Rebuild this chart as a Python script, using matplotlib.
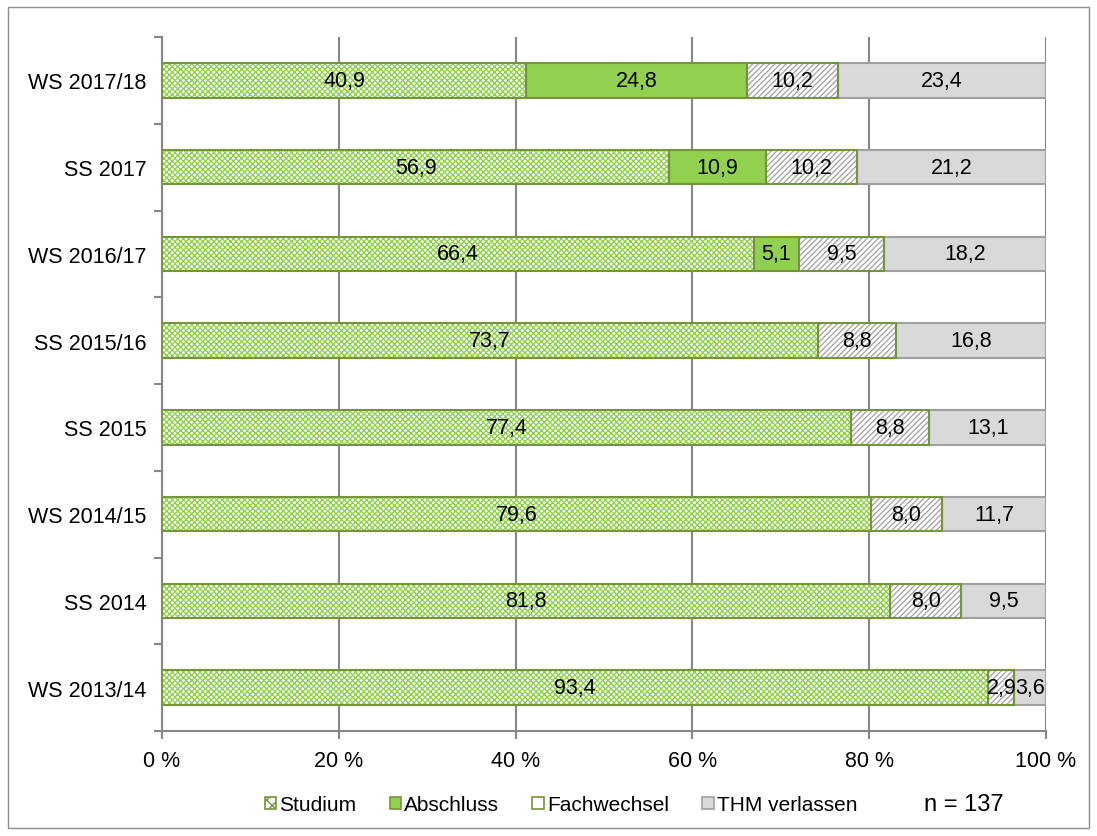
import matplotlib
matplotlib.use("Agg")
import matplotlib.pyplot as plt
from matplotlib.patches import Patch, Rectangle
import numpy as np

plt.rcParams['font.family'] = ['Liberation Sans', 'DejaVu Sans']

categories = ["WS 2017/18", "SS 2017", "WS 2016/17", "SS 2015/16",
              "SS 2015", "WS 2014/15", "SS 2014", "WS 2013/14"]
studium = [40.9, 56.9, 66.4, 73.7, 77.4, 79.6, 81.8, 93.4]
abschluss = [24.8, 10.9, 5.1, 0.0, 0.0, 0.0, 0.0, 0.0]
fachwechsel = [10.2, 10.2, 9.5, 8.8, 8.8, 8.0, 8.0, 2.9]
verlassen = [23.4, 21.2, 18.2, 16.8, 13.1, 11.7, 9.5, 3.6]
series_names = ["Studium", "Abschluss", "Fachwechsel", "THM verlassen"]
xticks = [0, 20, 40, 60, 80, 100]
n_text = "n = 137"

FS = 15.5

W, H = 1097, 837
fig = plt.figure(figsize=(W / 100, H / 100), dpi=100)
fig.patches.append(Rectangle((8 / W, 8 / H), (1089 - 8) / W, (829 - 8) / H,
                             transform=fig.transFigure, fill=False,
                             edgecolor='#8c8c8c', linewidth=1.0))
ax = fig.add_axes([162 / W, 105 / H, (1046 - 162) / W, (732 - 38) / H])

plt.rcParams['hatch.linewidth'] = 1.0

data = np.array([studium, abschluss, fachwechsel, verlassen])
totals = data.sum(axis=0)
pct = data / totals * 100

y = np.arange(len(categories))
bh = 0.4

styles = [
    dict(face='white', hatch='xxxxxx', hcol='#92d050', edge='#77933c'),
    dict(face='#92d050', hatch=None, hcol=None, edge='#77933c'),
    dict(face='white', hatch='//////', hcol='#a8a8a8', edge='#77933c'),
    dict(face='#d9d9d9', hatch=None, hcol=None, edge='#a0a0a0'),
]

left = np.zeros(len(categories))
for i, st in enumerate(styles):
    w = pct[i]
    mask = data[i] > 0
    if st['hatch']:
        ax.barh(y[mask], w[mask], left=left[mask], height=bh, color=st['face'],
                hatch=st['hatch'], edgecolor=st['hcol'], linewidth=0, zorder=3)
        ax.barh(y[mask], w[mask], left=left[mask], height=bh, fill=False,
                edgecolor=st['edge'], linewidth=1.5, zorder=4)
    else:
        ax.barh(y[mask], w[mask], left=left[mask], height=bh, color=st['face'],
                edgecolor=st['edge'], linewidth=1.5, zorder=3)
    for j in range(len(categories)):
        if data[i][j] > 0:
            ax.text(left[j] + w[j] / 2, y[j], f"{data[i][j]:.1f}".replace('.', ','),
                    ha='center', va='center', fontsize=FS, color='black', zorder=5)
    left = left + w

ax.set_xlim(0, 100)
ax.set_ylim(len(categories) - 0.5, -0.5)
ax.set_xticks(xticks)
ax.set_xticklabels([f"{t} %" for t in xticks], fontsize=FS)
ax.set_yticks(y)
ax.set_yticklabels(categories, fontsize=FS)
ax.set_yticks(np.arange(len(categories) + 1) - 0.5, minor=True)
ax.tick_params(axis='y', which='major', length=0, pad=11)
ax.tick_params(axis='y', which='minor', length=6, width=1.5, color='#878787')
ax.tick_params(axis='x', which='major', length=6, width=1.5, color='#878787', pad=8)
ax.grid(axis='x', color='#878787', linewidth=1.5, zorder=0)
ax.set_axisbelow(True)
for s in ['top', 'right']:
    ax.spines[s].set_visible(False)
for s in ['left', 'bottom']:
    ax.spines[s].set_color('#878787')
    ax.spines[s].set_linewidth(1.5)

handles = []
for i, st in enumerate(styles):
    if i == 0:
        handles.append(Patch(facecolor=st['face'], edgecolor='#77933c',
                             hatch='xxx', linewidth=1.2))
    else:
        handles.append(Patch(facecolor=st['face'], edgecolor=st['edge'], linewidth=1.2))
fig.legend(handles, series_names, loc='center', bbox_to_anchor=(561 / W, 31 / H),
           ncol=4, frameon=False, fontsize=FS - 0.5, handlelength=0.55, handleheight=0.55,
           handletextpad=0.15, columnspacing=1.6)
fig.text(964 / W, 32 / H, n_text, ha='center', va='center', fontsize=17)

fig.savefig("out.png", dpi=100)
